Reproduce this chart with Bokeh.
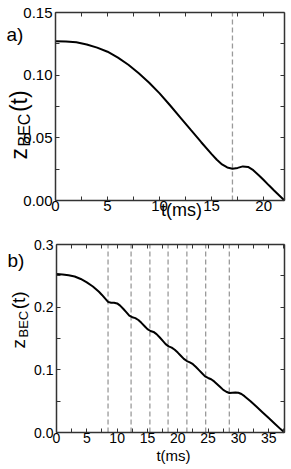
from bokeh.plotting import figure
from bokeh.models import Range1d, LinearAxis, FixedTicker, Label
from bokeh.layouts import column
from bokeh.embed import file_html
from bokeh.resources import INLINE

# ---- panel a data ----
a_t = [0, 1, 2, 3, 4, 5, 6, 7, 8, 9, 10, 11, 12, 13, 14, 15, 15.5, 16, 16.5,
       17, 17.5, 18, 18.5, 19, 19.5, 20, 20.5, 21, 21.5, 22]
a_z = [0.1270, 0.1268, 0.1262, 0.1245, 0.1220, 0.1187, 0.1140, 0.1083, 0.1015,
       0.0940, 0.0855, 0.0760, 0.0662, 0.0563, 0.0465, 0.0370, 0.0325, 0.0288,
       0.0264, 0.0254, 0.0260, 0.0272, 0.0268, 0.0242, 0.0204, 0.0163, 0.0121,
       0.0080, 0.0040, 0.0]
a_dashes = [17]
a_xticks = [0, 5, 10, 15, 20]
a_xminor = [2.5, 7.5, 12.5, 17.5]
a_yticks = [0.0, 0.05, 0.10, 0.15]
a_yminor = [0.025, 0.075, 0.125]
a_ylabels = ["0.00", "0.05", "0.10", "0.15"]

# ---- panel b data ----
b_t = [0, 1, 2, 3, 4, 5, 6, 7, 7.5, 8, 8.5, 9, 9.5, 10, 10.5, 11, 11.5, 12,
       12.5, 13, 13.5, 14, 14.5, 15, 15.5, 16, 16.5, 17, 17.5, 18, 18.5, 19,
       19.5, 20, 20.5, 21, 21.5, 22, 22.5, 23, 23.5, 24, 24.5, 25, 25.5, 26,
       26.5, 27, 27.5, 28, 28.5, 29, 29.5, 30, 30.5, 31, 32, 33, 34, 35, 36,
       37, 37.6]
b_z = [0.2528, 0.2522, 0.2510, 0.2490, 0.2450, 0.2395, 0.2330, 0.2245, 0.2195,
       0.2140, 0.2085, 0.2070, 0.2070, 0.2060, 0.2025, 0.1975, 0.1920, 0.1865,
       0.1840, 0.1825, 0.1795, 0.1750, 0.1700, 0.1650, 0.1620, 0.1605, 0.1570,
       0.1520, 0.1465, 0.1410, 0.1375, 0.1355, 0.1320, 0.1275, 0.1225, 0.1175,
       0.1140, 0.1120, 0.1090, 0.1045, 0.0995, 0.0945, 0.0895, 0.0870, 0.0850,
       0.0815, 0.0770, 0.0725, 0.0680, 0.0650, 0.0630, 0.0635, 0.0640, 0.0635,
       0.0615, 0.0580, 0.0500, 0.0410, 0.0320, 0.0230, 0.0140, 0.0050, 0.0]
b_dashes = [8.5, 12.3, 15.4, 18.4, 21.5, 24.6, 28.5]
b_xticks = [0, 5, 10, 15, 20, 25, 30, 35]
b_xminor = [2.5, 7.5, 12.5, 17.5, 22.5, 27.5, 32.5, 37.5]
b_yticks = [0.0, 0.1, 0.2, 0.3]
b_yminor = [0.05, 0.15, 0.25]
b_ylabels = ["0.0", "0.1", "0.2", "0.3"]

FONT = "Liberation Sans"
FRAME = "#333333"


def style_axis(ax, show_labels, tick_fs):
    ax.axis_line_color = FRAME
    ax.axis_line_width = 1.5
    ax.major_tick_in = 4
    ax.major_tick_out = 0
    ax.minor_tick_in = 4
    ax.minor_tick_out = 0
    ax.major_tick_line_color = FRAME
    ax.minor_tick_line_color = FRAME
    ax.major_label_text_font = FONT
    if show_labels:
        ax.major_label_text_font_size = tick_fs
        ax.major_label_text_color = "black"
    else:
        ax.major_label_text_font_size = "0px"
        ax.major_label_text_color = None
        ax.major_label_standoff = 0


def make_panel(t, z, dashes, xmax, ymax, xticks, xminor, yticks, yminor,
               ylabels, width, height, box, tick_fs, xlab_fs, xlab_pos,
               tag, tag_pos, ylab_pos, ylab_fs):
    # box = pixel edges of the axes box (left, right, top, bottom) in canvas
    L, R, T, B = box
    sx = (R - L) / xmax
    sy = (B - T) / ymax
    x_range = Range1d(-L / sx, xmax + (width - R) / sx)
    y_range = Range1d(-(height - B) / sy, ymax + T / sy)
    p = figure(width=width, height=height, output_backend="svg",
               toolbar_location=None, x_range=x_range, y_range=y_range,
               min_border=0)
    p.grid.visible = False
    p.outline_line_color = None
    p.background_fill_color = "white"
    p.border_fill_color = "white"

    p.xaxis.ticker = FixedTicker(ticks=xticks, minor_ticks=xminor)
    p.yaxis.ticker = FixedTicker(ticks=yticks, minor_ticks=yminor)
    p.yaxis.major_label_overrides = {v: s for v, s in zip(yticks, ylabels)}
    style_axis(p.xaxis[0], True, tick_fs)
    style_axis(p.yaxis[0], True, tick_fs)
    p.yaxis.fixed_location = 0
    p.xaxis.fixed_location = 0
    p.xaxis.bounds = (0, xmax)
    p.yaxis.bounds = (0, ymax)
    p.xaxis.major_label_standoff = 0
    p.yaxis.major_label_standoff = 3

    top = LinearAxis(ticker=FixedTicker(ticks=xticks, minor_ticks=xminor),
                     bounds=(0, xmax), fixed_location=ymax)
    right = LinearAxis(ticker=FixedTicker(ticks=yticks, minor_ticks=yminor),
                       bounds=(0, ymax), fixed_location=xmax)
    style_axis(top, False, tick_fs)
    style_axis(right, False, tick_fs)
    p.add_layout(top, "above")
    p.add_layout(right, "right")

    # dashed markers spanning the axes box
    p.segment(x0=dashes, y0=[0] * len(dashes), x1=dashes,
              y1=[ymax] * len(dashes), line_color="#9a9a9a",
              line_width=1.3, line_dash="5 3")

    p.line(t, z, line_color="black", line_width=2)

    def lab(x, y, text, fs, **kw):
        p.add_layout(Label(x=x, y=height - y, x_units="screen",
                           y_units="screen", text=text, text_font=FONT,
                           text_font_size=fs, text_color="black", **kw))

    # x-axis label and panel tag (positions in canvas px from top-left)
    lab(xlab_pos[0], xlab_pos[1], "t(ms)", xlab_fs, text_align="center")
    lab(tag_pos[0], tag_pos[1], tag, "19px")

    # y label z_BEC(t), rotated, built from three pieces
    x0, y0 = ylab_pos
    big, small = ylab_fs
    wz = 0.5 * big
    wsub = 2.056 * small
    pieces = [("z", big, 0, 0),
              ("BEC", small, 0.25 * big, wz + 1.5),
              ("(t)", big, 0, wz + 1.5 + wsub + 1.5)]
    for txt, fs, dx, dy in pieces:
        lab(x0 + dx, y0 - dy, txt, f"{fs}px", angle=1.5707963,
            text_align="left", text_baseline="alphabetic")
    return p


pa = make_panel(a_t, a_z, a_dashes, 22, 0.15, a_xticks, a_xminor, a_yticks,
                a_yminor, a_ylabels, 291, 226, (55, 284, 12, 200), "15px",
                "18px", (181, 219.5), "a)", (6, 44), (18, 159), (23, 16))
pb = make_panel(b_t, b_z, b_dashes, 37.6, 0.3, b_xticks, b_xminor, b_yticks,
                b_yminor, b_ylabels, 291, 243, (56, 284, 18, 206), "14px",
                "15px", (173, 237), "b)", (7, 44), (18, 122), (19, 13))

layout = column(pa, pb)
open("out.html", "w").write(file_html(layout, INLINE))
